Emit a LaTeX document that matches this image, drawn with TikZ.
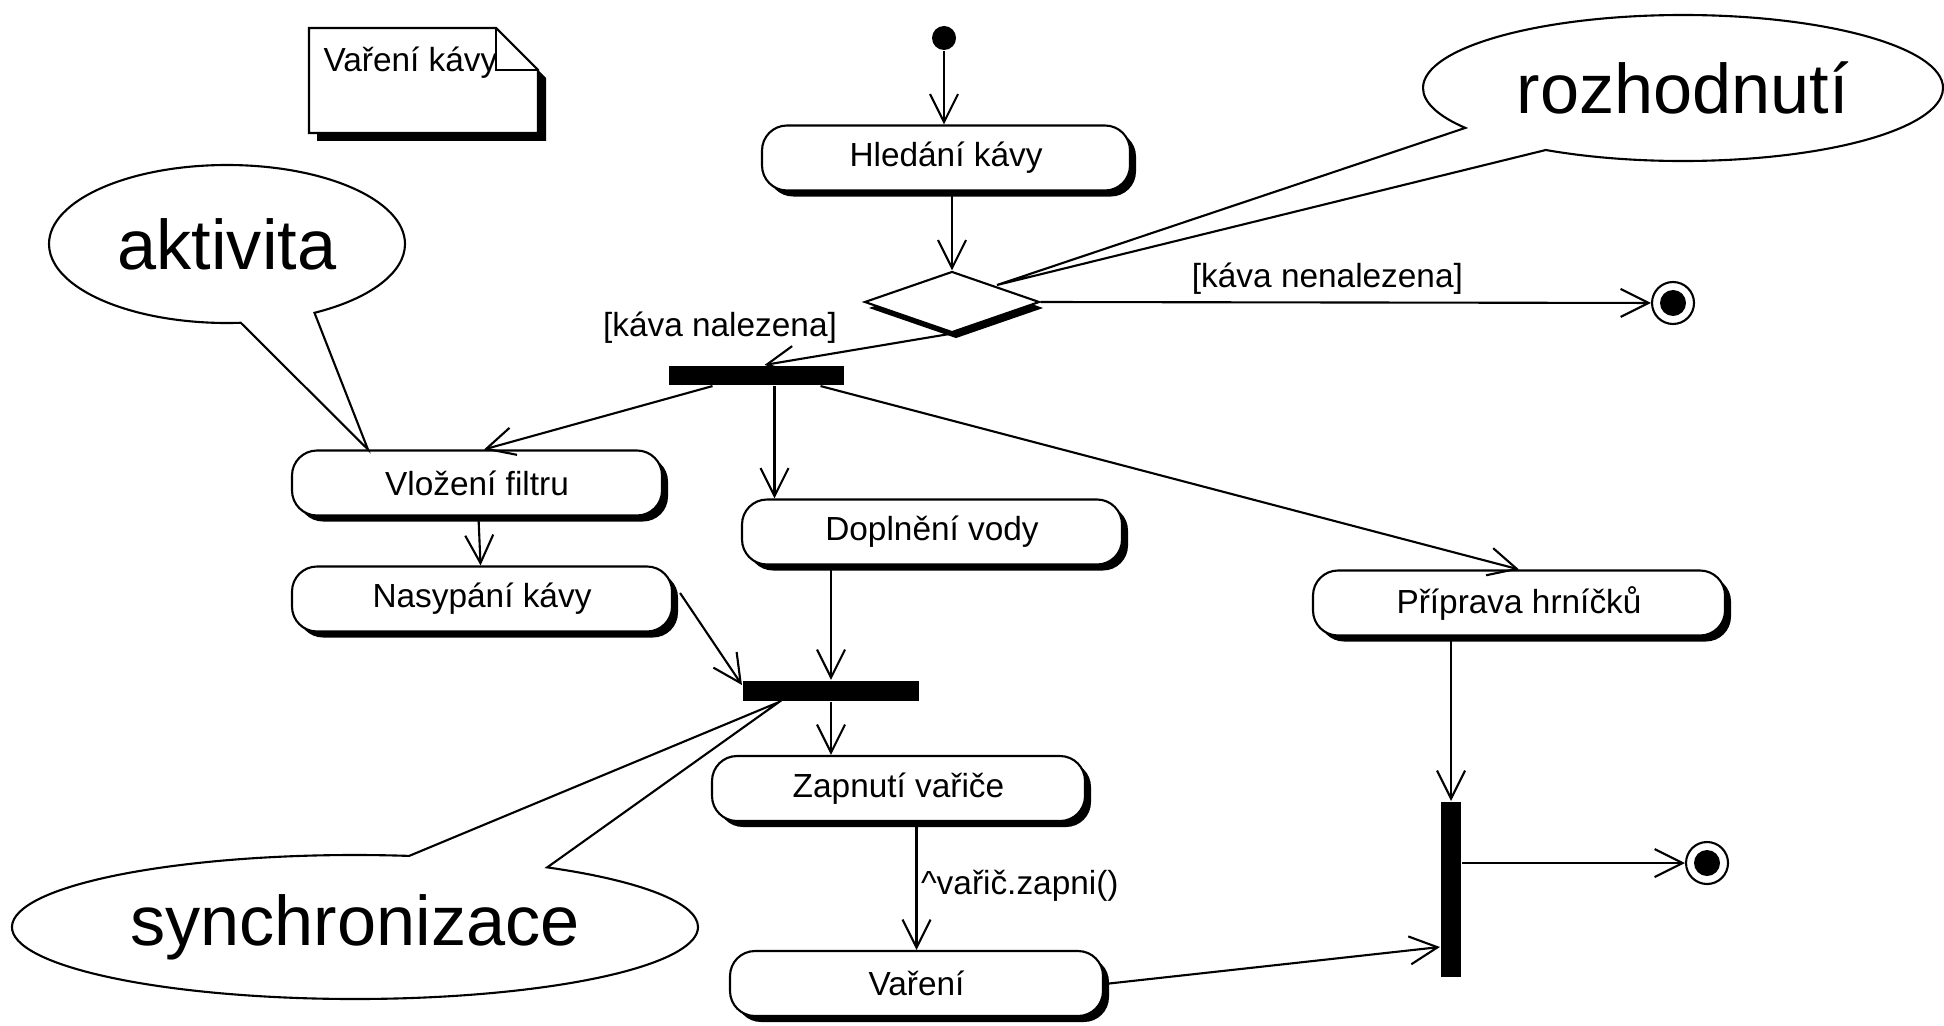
\documentclass[tikz,border=0pt]{standalone}
\usepackage{fontspec}
\setmainfont{Liberation Sans}
\usetikzlibrary{arrows.meta, positioning, shapes.geometric, shapes.callouts, shadows, calc}

\tikzset{
  activity/.style={draw, fill=white, rounded corners=0.25cm, minimum height=0.65cm, inner sep=0pt,
    font=\fontsize{9.5}{11}\selectfont,
    drop shadow={shadow xshift=0.06cm, shadow yshift=-0.06cm, fill=black, opacity=1}},
  decision/.style={diamond, draw, fill=white, minimum width=1.75cm, minimum height=0.61cm, inner sep=0pt,
    drop shadow={shadow xshift=0.04cm, shadow yshift=-0.06cm, fill=black, opacity=1}},
  syncbar/.style={fill=black, inner sep=0pt},
  startdot/.style={circle, fill=black, minimum size=0.24cm, inner sep=0pt},
  enddot/.style={circle, draw, fill=white, minimum size=0.42cm, inner sep=0pt,
    path picture={\fill[black] (path picture bounding box.center) circle (0.13cm);}},
  bubble/.style={ellipse callout, draw, fill=white, inner sep=0pt, callout pointer arc=25,
    font=\fontsize{20}{24}\selectfont},
  guard/.style={font=\fontsize{9.5}{11}\selectfont, inner sep=1pt},
}

\begin{document}
\begin{tikzpicture}[>={Straight Barb[length=2.8mm,width=2.8mm]}, line width=0.6pt]
  \useasboundingbox (0,0) rectangle (19.44,-10.25);

  % diagram name in a folded note
  \fill[shift={(0.08,-0.08)}] (3.09,-0.28) -- (4.96,-0.28) -- (5.38,-0.70) -- (5.38,-1.33) -- (3.09,-1.33) -- cycle;
  \draw[fill=white] (3.09,-0.28) -- (4.96,-0.28) -- (5.38,-0.70) -- (5.38,-1.33) -- (3.09,-1.33) -- cycle;
  \draw (4.96,-0.28) |- (5.38,-0.70);
  \node[guard, anchor=base west] (nazev) at (3.19,-0.72) {Vaření kávy};

  % states, bars and end points
  \node[startdot] (start) at (9.44,-0.38) {};
  \node[activity, minimum width=3.68cm] (hledani) at (9.46,-1.58) {Hledání kávy};
  \node[decision] (rozhodnuti) at (9.52,-3.02) {};
  \node[enddot] (konecA) at (16.73,-3.03) {};
  \node[syncbar, minimum width=1.75cm, minimum height=0.19cm] (forkA) at (7.565,-3.755) {};
  \node[activity, minimum width=3.70cm] (filtr) at (4.77,-4.83) {Vložení filtru};
  \node[activity, minimum width=3.80cm] (nasypani) at (4.82,-5.99) {Nasypání kávy};
  \node[activity, minimum width=3.80cm] (voda) at (9.32,-5.32) {Doplnění vody};
  \node[activity, minimum width=4.12cm] (hrnicky) at (15.19,-6.03) {Příprava hrníčků};
  \node[syncbar, minimum width=1.76cm, minimum height=0.20cm] (forkB) at (8.31,-6.91) {};
  \node[activity, minimum width=3.73cm] (zapnuti) at (8.985,-7.885) {Zapnutí vařiče};
  \node[activity, minimum width=3.73cm] (vareni) at (9.165,-9.835) {Vaření};
  \node[syncbar, minimum width=0.20cm, minimum height=1.75cm] (joinC) at (14.51,-8.895) {};
  \node[enddot] (konecB) at (17.07,-8.63) {};

  % transitions
  \draw[->] (start) -- (start |- hledani.north);
  \draw[->] (rozhodnuti.north |- hledani.south) -- (rozhodnuti.north);
  \draw[->] (rozhodnuti.east) -- node[guard, above=1pt, pos=0.47] (nenalezena) {[káva nenalezena]} (konecA);
  \draw[->] (rozhodnuti.south) -- ([xshift=0.08cm]forkA.north);
  \node[guard] (nalezena) at (7.20,-3.28) {[káva nalezena]};
  \draw[->] ([xshift=-0.44cm]forkA.south) -- ([xshift=0.07cm]filtr.north);
  \draw[->] ([xshift=0.18cm]forkA.south) -- ([xshift=0.18cm]forkA.south |- voda.north);
  \draw[->] ([xshift=0.64cm]forkA.south) -- (hrnicky.north);
  \draw[->] (filtr) -- (nasypani);
  \draw[->] ([xshift=0.07cm,yshift=0.06cm]nasypani.east) -- ([yshift=0.06cm]forkB.west);
  \draw[->] (forkB.north |- voda.south) -- (forkB.north);
  \draw[->] (forkB.south) -- (forkB.south |- zapnuti.north);
  \draw[->] (vareni.north |- zapnuti.south) -- node[guard, right] (signal) {\textasciicircum vařič.zapni()} (vareni.north);
  \draw[->] ([xshift=0.05cm]vareni.east) -- ([yshift=-0.575cm]joinC.west);
  \draw[->] (joinC.north |- hrnicky.south) -- (joinC.north);
  \draw[->] (joinC.east |- konecB) -- (konecB);

  % explanatory bubbles
  \node[bubble, minimum width=5.2cm, minimum height=1.46cm,
    callout absolute pointer={(9.97,-2.85)}] (bublinaA) at (16.83,-0.88) {rozhodnutí};
  \node[bubble, minimum width=3.56cm, minimum height=1.58cm,
    callout absolute pointer={([xshift=0.77cm]filtr.north west)}] (bublinaB) at (2.27,-2.44) {aktivita};
  \node[bubble, minimum width=6.86cm, minimum height=1.44cm,
    callout absolute pointer={([xshift=0.37cm]forkB.south west)}] (bublinaC) at (3.55,-9.27) {synchronizace};
\end{tikzpicture}
\end{document}
